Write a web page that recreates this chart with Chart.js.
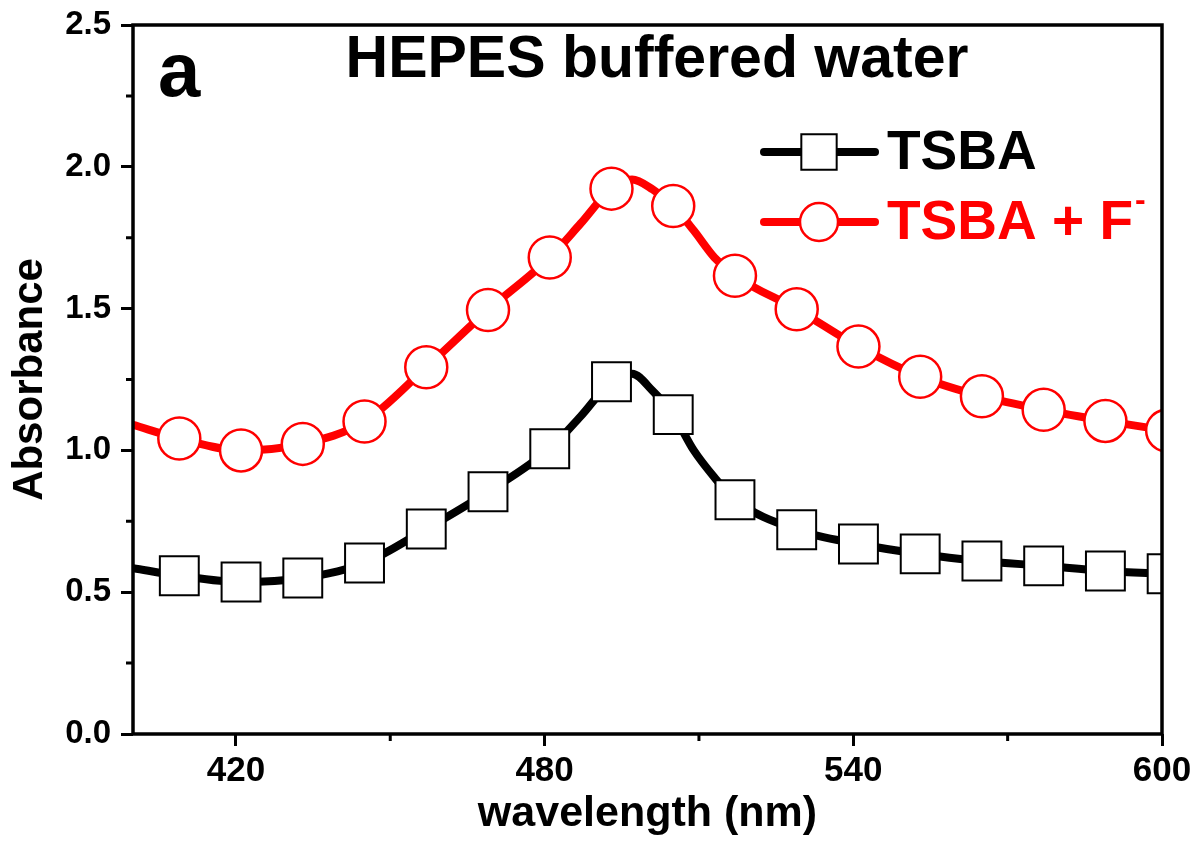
<!DOCTYPE html>
<html>
<head>
<meta charset="utf-8">
<script src="https://cdn.jsdelivr.net/npm/chart.js@4.4.1/dist/chart.umd.min.js"></script>
<style>
  body { margin: 0; background: #fff; }
  canvas { display: block; }
</style>
</head>
<body>
<canvas id="chart" width="1201" height="852"></canvas>
<script>
// wavelength (nm) of every point on the curves
const wavelength = [400, 409, 421, 433, 445, 457, 469, 481, 487, 493, 497, 501, 505, 509, 513, 517, 529, 541, 553, 565, 577, 589, 601];
// absorbance
const tsba = [0.585, 0.558, 0.536, 0.550, 0.603, 0.723, 0.854, 1.006, 1.12, 1.242, 1.27, 1.21, 1.126, 1.00, 0.905, 0.826, 0.72, 0.670, 0.635, 0.610, 0.593, 0.575, 0.565];
const tsbaF = [1.09, 1.042, 1.000, 1.023, 1.102, 1.293, 1.495, 1.68, 1.80, 1.923, 1.955, 1.92, 1.862, 1.775, 1.68, 1.616, 1.498, 1.366, 1.26, 1.191, 1.143, 1.104, 1.07];
// wavelengths that carry a symbol
const markerWavelengths = [409, 421, 433, 445, 457, 469, 481, 493, 505, 517, 529, 541, 553, 565, 577, 589, 601];

const xMajorTicks = [420, 480, 540, 600];
const xMinorTicks = [450, 510, 570];
const yMajorTicks = [0, 0.5, 1.0, 1.5, 2.0, 2.5];
const yMinorTicks = [0.25, 0.75, 1.25, 1.75, 2.25];

const FONT = "'Liberation Sans', Arial, sans-serif";

function markerRadius(size) {
    return ctx => markerWavelengths.includes(wavelength[ctx.dataIndex]) ? size : 0;
}

const decor = {
    id: "decor",
    afterDatasetsDraw(chart) {
        const ctx = chart.ctx;
        const a = chart.chartArea;
        const xs = chart.scales.x;
        const ys = chart.scales.y;
        ctx.save();

        // frame
        ctx.strokeStyle = "#000";
        ctx.lineWidth = 3.5;
        ctx.strokeRect(a.left, a.top, a.right - a.left, a.bottom - a.top);

        // minor ticks
        ctx.lineWidth = 3;
        ctx.beginPath();
        xMinorTicks.forEach(v => {
            const px = xs.getPixelForValue(v);
            ctx.moveTo(px, a.bottom);
            ctx.lineTo(px, a.bottom + 7);
        });
        yMinorTicks.forEach(v => {
            const py = ys.getPixelForValue(v);
            ctx.moveTo(a.left, py);
            ctx.lineTo(a.left - 7, py);
        });
        ctx.stroke();

        // panel letter and title
        ctx.fillStyle = "#000";
        ctx.textBaseline = "alphabetic";
        ctx.textAlign = "left";
        ctx.font = "bold 76px " + FONT;
        ctx.fillText("a", 158, 96);
        ctx.textAlign = "center";
        ctx.font = "bold 59px " + FONT;
        ctx.fillText("HEPES buffered water", 657, 77);

        // legend
        ctx.textAlign = "left";
        ctx.lineCap = "round";
        const entries = [
            { y: 152, color: "#000", text: "TSBA", sup: "", style: "rect", r: 25 },
            { y: 222, color: "#ff0000", text: "TSBA + F", sup: "-", style: "circle", r: 19 }
        ];
        entries.forEach(e => {
            ctx.strokeStyle = e.color;
            ctx.lineWidth = 8;
            ctx.beginPath();
            ctx.moveTo(764, e.y);
            ctx.lineTo(875, e.y);
            ctx.stroke();
            ctx.fillStyle = "#fff";
            ctx.lineWidth = e.style === "rect" ? 2 : 2.5;
            ctx.beginPath();
            if (e.style === "rect") {
                const s = e.r * Math.SQRT1_2;
                ctx.rect(819 - s, e.y - s, 2 * s, 2 * s);
            } else {
                ctx.arc(819, e.y, e.r, 0, Math.PI * 2);
            }
            ctx.fill();
            ctx.stroke();
            ctx.fillStyle = e.color;
            ctx.font = "bold 55px " + FONT;
            ctx.fillText(e.text, 887, e.y + 17);
            if (e.sup) {
                const w = ctx.measureText(e.text).width;
                ctx.font = "bold 32px " + FONT;
                ctx.fillText(e.sup, 887 + w + 2, e.y - 12);
            }
        });
        ctx.restore();
    }
};

new Chart(document.getElementById("chart"), {
    type: "line",
    data: {
        datasets: [
            {
                label: "TSBA",
                data: wavelength.map((w, i) => ({ x: w, y: tsba[i] })),
                borderColor: "#000",
                borderWidth: 8,
                cubicInterpolationMode: "monotone",
                pointStyle: "rect",
                pointRadius: markerRadius(27.5),
                pointBackgroundColor: "#fff",
                pointBorderColor: "#000",
                pointBorderWidth: 2,
                clip: 0
            },
            {
                label: "TSBA + F-",
                data: wavelength.map((w, i) => ({ x: w, y: tsbaF[i] })),
                borderColor: "#ff0000",
                borderWidth: 8,
                cubicInterpolationMode: "monotone",
                pointStyle: "circle",
                pointRadius: markerRadius(21),
                pointBackgroundColor: "#fff",
                pointBorderColor: "#ff0000",
                pointBorderWidth: 2.5,
                clip: 0
            }
        ]
    },
    options: {
        responsive: false,
        animation: false,
        events: [],
        layout: { autoPadding: false, padding: { top: 25, right: 39, left: 0, bottom: 0 } },
        plugins: {
            legend: { display: false },
            tooltip: { enabled: false }
        },
        scales: {
            x: {
                type: "linear",
                min: 400,
                max: 600,
                afterBuildTicks: s => { s.ticks = xMajorTicks.map(v => ({ value: v })); },
                afterFit: s => { s.height = 118; },
                border: { display: false },
                grid: { drawOnChartArea: false, tickLength: 12, tickWidth: 3, tickColor: "#000" },
                ticks: {
                    color: "#000",
                    padding: 4,
                    maxRotation: 0,
                    autoSkip: false,
                    font: { family: FONT, weight: "bold", size: 35 },
                    callback: v => String(v)
                },
                title: {
                    display: true,
                    text: "wavelength (nm)",
                    color: "#000",
                    font: { family: FONT, weight: "bold", size: 43 },
                    padding: { top: 0, bottom: 12 }
                }
            },
            y: {
                min: 0,
                max: 2.5,
                afterBuildTicks: s => { s.ticks = yMajorTicks.map(v => ({ value: v })); },
                afterFit: s => { s.width = 133; },
                border: { display: false },
                grid: { drawOnChartArea: false, tickLength: 12, tickWidth: 3, tickColor: "#000" },
                ticks: {
                    color: "#000",
                    padding: 10,
                    autoSkip: false,
                    font: { family: FONT, weight: "bold", size: 33, lineHeight: 0.9 },
                    callback: v => v.toFixed(1)
                },
                title: {
                    display: true,
                    text: "Absorbance",
                    color: "#000",
                    font: { family: FONT, weight: "bold", size: 42 },
                    padding: { top: 5, bottom: 0 }
                }
            }
        }
    },
    plugins: [decor]
});
</script>
</body>
</html>
